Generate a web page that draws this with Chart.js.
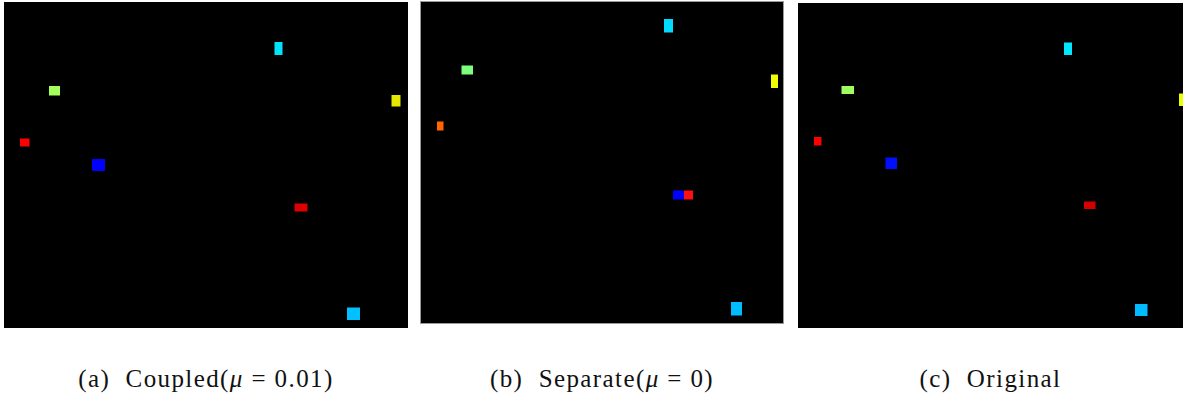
<!DOCTYPE html>
<html>
<head>
<meta charset="utf-8">
<script src="https://cdn.jsdelivr.net/npm/chart.js@4.4.1/dist/chart.umd.min.js"></script>
<style>
  html, body { margin: 0; padding: 0; background: #fff; }
  body { width: 1186px; height: 401px; position: relative; overflow: hidden; }
  .panel { position: absolute; }
  .caption {
    position: absolute; text-align: center; white-space: pre;
    font-family: "Liberation Serif", "Times New Roman", serif;
    font-size: 25px; line-height: 28px; letter-spacing: 1.4px; color: #111;
  }
  .caption i { font-style: italic; }
</style>
</head>
<body>
<div class="panel" style="left:4px;top:2px;"><canvas id="c1" width="404" height="326"></canvas></div>
<div class="panel" style="left:420px;top:1px;"><canvas id="c2" width="364" height="323"></canvas></div>
<div class="panel" style="left:798px;top:3px;"><canvas id="c3" width="385" height="325"></canvas></div>

<div class="caption" style="left:4px;top:365px;width:404px;">(a)  Coupled(<i>μ</i> = 0.01)</div>
<div class="caption" style="left:420px;top:365px;width:364px;">(b)  Separate(<i>μ</i> = 0)</div>
<div class="caption" style="left:798px;top:365px;width:385px;">(c)  Original</div>

<script>
// Grid extent of each reconstruction (width, height in grid units)
const coupledSize  = [404, 326];
const separateSize = [364, 323];
const originalSize = [385, 325];

// Source blocks: [x0, x1, y0, y1] in grid units (y grows downward)
const coupledBlocks = [
  [270.5, 278.5, 40, 53],
  [45, 56, 84, 93.5],
  [387.5, 396.5, 93, 104.5],
  [16, 25.5, 136.5, 144.5],
  [88, 101, 157, 169],
  [290.5, 303.5, 201.5, 209.5],
  [343, 356, 305.5, 318]
];
const separateBlocks = [
  [244, 253, 18, 31.5],
  [41.5, 53, 64.5, 73.5],
  [351, 358, 73.5, 87],
  [17, 23.5, 120.5, 129.5],
  [253, 264, 189.5, 198.5],
  [264, 273, 189.5, 198.5],
  [311, 322, 301, 314.5]
];
const originalBlocks = [
  [266, 274, 39.5, 52],
  [43.5, 56, 83, 91],
  [381, 389, 90.5, 103],
  [16, 23.5, 134, 142.5],
  [87.5, 99, 154.5, 166],
  [286, 297.5, 198.5, 206],
  [337, 349.5, 301, 313]
];

// Block colours (jet colormap tones), one list per panel
const coupledColors  = ['#00e4fb', '#a2ff5c', '#e6e600', '#ff0000', '#0000ff', '#dd0000', '#00c0ff'];
const separateColors = ['#00dcff', '#7cff7c', '#f2ff00', '#ff6600', '#0000ff', '#ff1010', '#00bcff'];
const originalColors = ['#00e6ff', '#a0ff60', '#eaff00', '#ff0000', '#0010ff', '#d40000', '#00bcff'];

const panelBackground = {
  id: 'panelBackground',
  beforeDraw(chart, args, opts) {
    const a = chart.chartArea, ctx = chart.ctx;
    ctx.save();
    ctx.fillStyle = '#000';
    ctx.fillRect(a.left, a.top, a.right - a.left, a.bottom - a.top);
    ctx.restore();
  },
  afterDraw(chart, args, opts) {
    if (!opts.frame) return;
    const a = chart.chartArea, ctx = chart.ctx;
    ctx.save();
    ctx.strokeStyle = opts.frame;
    ctx.lineWidth = 1;
    ctx.strokeRect(a.left + 0.5, a.top + 0.5, a.right - a.left - 1, a.bottom - a.top - 1);
    ctx.restore();
  }
};

function blockDataset(b, color) {
  const [x0, x1, y0, y1] = b;
  return {
    data: [{x: x0, y: y0}, {x: x1, y: y0}, {x: x1, y: y1}, {x: x0, y: y1}, {x: x0, y: y0}],
    showLine: true,
    fill: 'shape',
    backgroundColor: color,
    borderColor: color,
    borderWidth: 0,
    pointRadius: 0,
    tension: 0
  };
}

function drawPanel(id, size, blocks, colors, frame) {
  new Chart(document.getElementById(id), {
    type: 'scatter',
    data: { datasets: blocks.map((b, i) => blockDataset(b, colors[i])) },
    options: {
      responsive: false,
      animation: false,
      devicePixelRatio: 1,
      layout: { padding: 0 },
      scales: {
        x: { type: 'linear', min: 0, max: size[0], display: false },
        y: { type: 'linear', min: 0, max: size[1], reverse: true, display: false }
      },
      plugins: {
        legend: { display: false },
        tooltip: { enabled: false },
        panelBackground: { frame: frame }
      }
    },
    plugins: [panelBackground]
  });
}

drawPanel('c1', coupledSize, coupledBlocks, coupledColors, null);
drawPanel('c2', separateSize, separateBlocks, separateColors, '#9a9a9a');
drawPanel('c3', originalSize, originalBlocks, originalColors, null);
</script>
</body>
</html>
